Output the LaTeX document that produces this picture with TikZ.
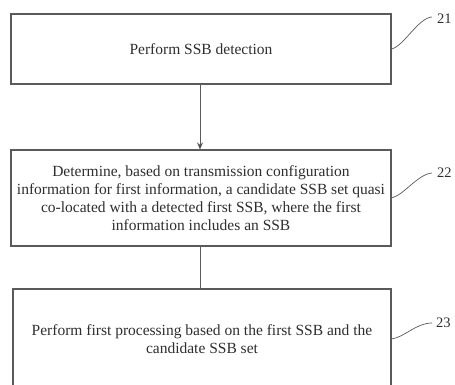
\documentclass[tikz,border=0pt]{standalone}
\usepackage{fontspec}
\setmainfont{Liberation Serif}
\usetikzlibrary{arrows.meta}
\definecolor{linegray}{HTML}{5A5A5A}
\definecolor{textgray}{HTML}{2E2E2E}
\begin{document}
\begin{tikzpicture}[x=1pt,y=-1pt,
  stepbox/.style={draw=linegray, line width=1.1pt, inner sep=0pt, align=center,
    text=textgray, font=\fontsize{15.5}{18}\selectfont},
  flow/.style={draw=linegray, line width=0.9pt},
  leader/.style={draw=linegray, line width=0.7pt},
  numlabel/.style={anchor=west, inner sep=0pt, text=textgray, font=\fontsize{14.5}{16}\selectfont}]
\clip (0,0) rectangle (455,385);
\fill[white] (0,0) rectangle (455,385);
\node[stepbox, minimum width=380pt, minimum height=70pt] (b1) at (201,49) {Perform SSB detection};
\node[stepbox, minimum width=380pt, minimum height=96pt] (b2) at (201,198)
  {Determine, based on transmission configuration\\information for first information, a candidate SSB set quasi\\co-located with a detected first SSB, where the first\\information includes an SSB};
\node[stepbox, minimum width=378pt, minimum height=100pt] (b3) at (202,339)
  {Perform first processing based on the first SSB and the\\candidate SSB set};
\draw[flow, -{Stealth[length=7pt,width=6pt,fill=black]}] (b1.south -| 200,0) -- (b2.north -| 200,0);
\draw[flow] (b2.south -| 200,0) -- (b3.north -| 200,0);
\coordinate (e21) at (432,17);
\coordinate (e22) at (432,173);
\coordinate (e23) at (432,323);
\draw[leader] (b1.east) .. controls (404,46) and (418,18) .. (e21);
\draw[leader] (b2.east) .. controls (404,195) and (418,174) .. (e22);
\draw[leader] (b3.east) .. controls (405,337) and (416,323) .. (e23);
\node[numlabel] (t21) at (437,19) {21};
\node[numlabel] (t22) at (437,173) {22};
\node[numlabel] (t23) at (436,323) {23};
\end{tikzpicture}
\end{document}
